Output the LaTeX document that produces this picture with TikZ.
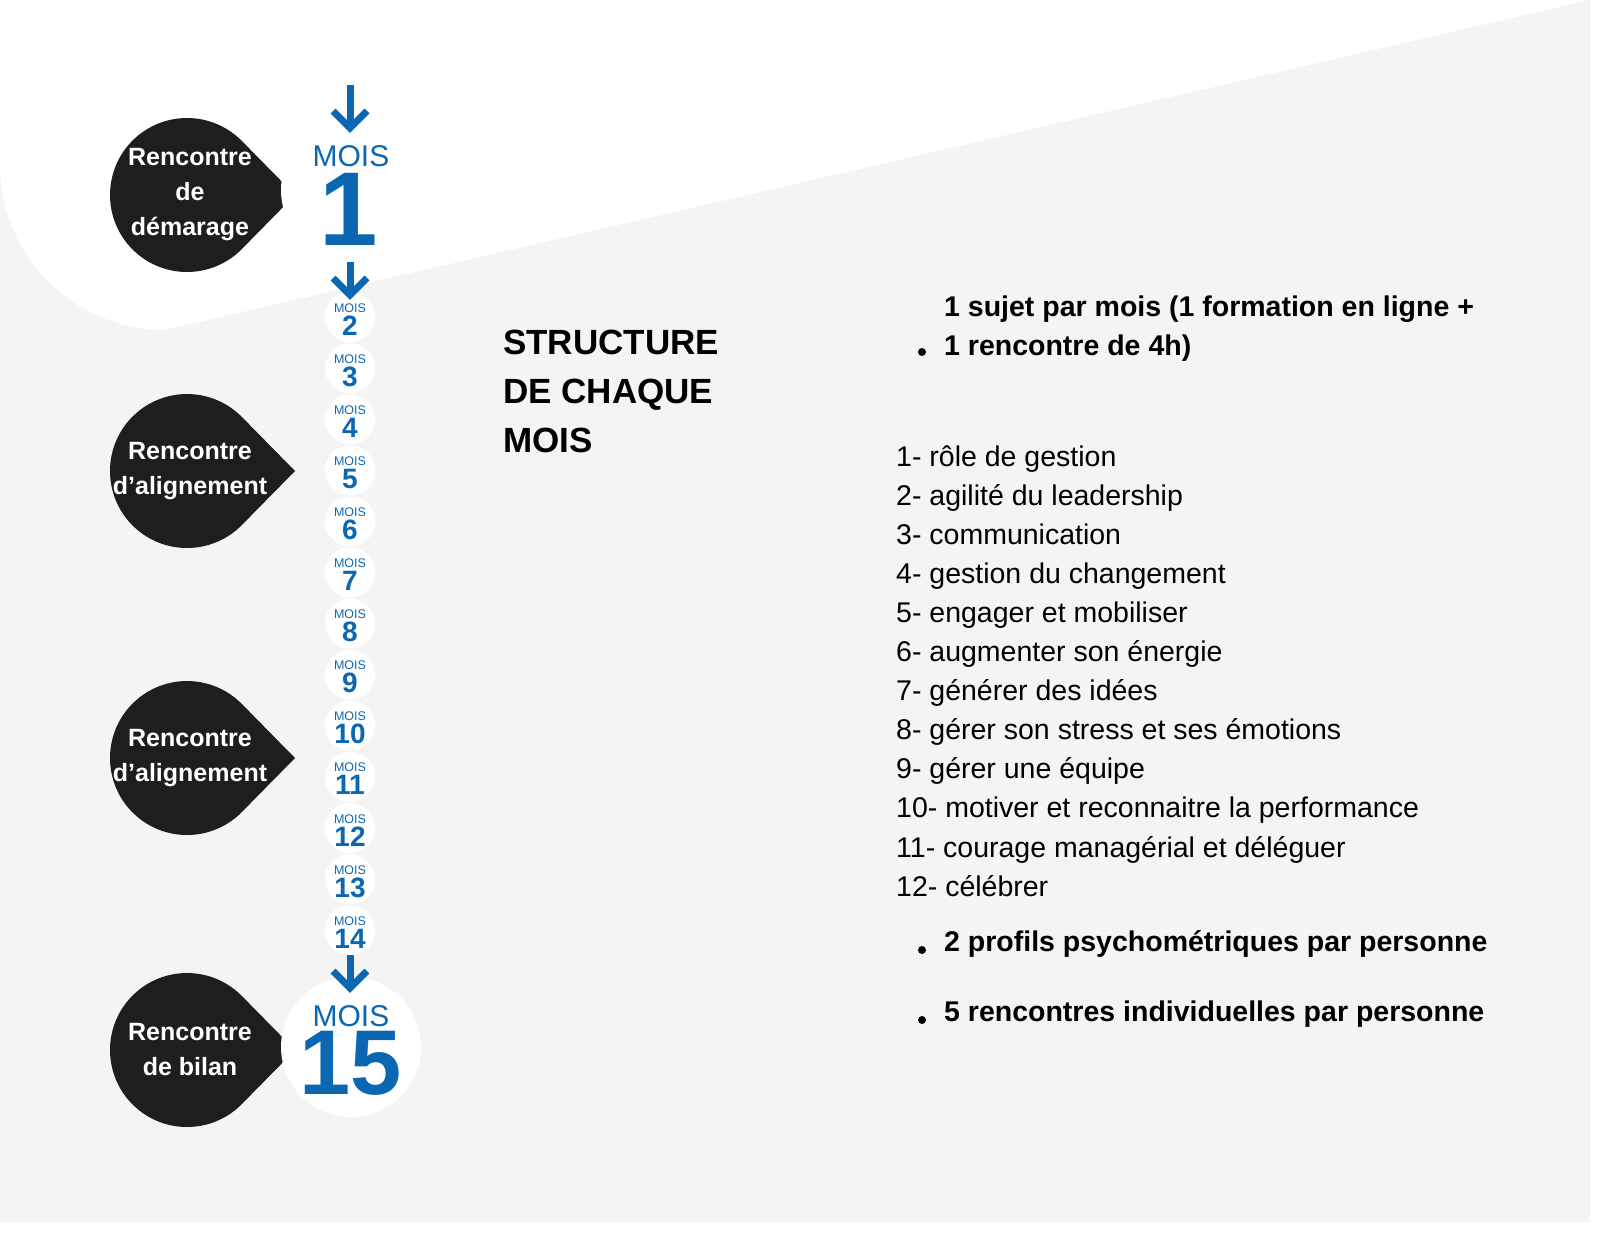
\documentclass[tikz,border=0pt]{standalone}
\usepackage{fontspec}
\setmainfont{Liberation Sans}
\usetikzlibrary{calc}
\definecolor{bg}{HTML}{F4F4F4}
\definecolor{mblue}{HTML}{0B67B2}
\definecolor{dropc}{HTML}{1E1E1C}
\begin{document}
\begin{tikzpicture}[x=1pt,y=-1pt,
  fs/.style={font=\fontsize{#1}{36}\selectfont},
  bigc/.style={circle,fill=white,minimum size=140pt,inner sep=0pt},
  smallc/.style={circle,fill=white,minimum size=50pt,inner sep=0pt},
  barrow/.style={draw=mblue,line width=7pt},
  droptxt/.style={text=white,font=\bfseries\fontsize{25}{35}\selectfont,align=center},
  item/.style={anchor=base west,font=\fontsize{28.5}{34}\selectfont,inner sep=0pt},
  bitem/.style={anchor=base west,font=\bfseries\fontsize{28.5}{39}\selectfont,inner sep=0pt,align=left}]
\useasboundingbox (0,0) rectangle (1600,1247);
\fill[white] (0,0) rectangle (1600,1247);
\fill[bg] (0,1222) -- (0,165) arc[start angle=180,end angle=90,radius=165] -- (1590,0) -- (1590,1222) -- cycle;

% drops
\foreach \n/\y in {d1/195,d2/471,d3/758,d4/1050}{
  \fill[dropc] (295,\y) -- ($(187,\y)+(44.5:77)$) arc[start angle=44.5,end angle=315.5,radius=77] -- cycle;
  \coordinate (\n) at (190,\y);
}
\node[droptxt] at (d1) {Rencontre\\de\\démarage};
\node[droptxt] at (d2) {Rencontre\\d'alignement};
\node[droptxt] at (d3) {Rencontre\\d'alignement};
\node[droptxt] at (d4) {Rencontre\\de bilan};

% big circles
\node[bigc] (m1) at (351,190) {};
\node[fs=30,text=mblue,anchor=base] at (351,166) {MOIS};
\node[text=mblue,font=\bfseries\fontsize{105}{105}\selectfont,anchor=base] at (349,245) {1};
\node[bigc] (m15) at (351,1047) {};
\node[fs=30,text=mblue,anchor=base] at (351,1026) {MOIS};
\node[text=mblue,font=\bfseries\fontsize{92}{92}\selectfont,anchor=base] at (351,1094) {15};

% small circles
\foreach \i [evaluate=\i as \yy using 317+(\i-2)*51.1] in {2,...,14}{
  \node[smallc] (m\i) at (350,\yy) {};
  \node[fs=12.5,text=mblue,anchor=base] at (350,\yy-5) {MOIS};
  \node[text=mblue,font=\bfseries\fontsize{28}{28}\selectfont,anchor=base] at (350,\yy+18) {\i};
}

% arrows
\coordinate (a0) at (350,85);
\coordinate (a1) at (350,130);
\coordinate (b0) at (350,262);
\coordinate (b1) at (350,297);
\coordinate (c0) at (350,955);
\coordinate (c1) at (350,990);
\foreach \s/\e in {a0/a1,b0/b1,c0/c1}{
  \draw[barrow] (\s) -- ($(\e)+(0,-3)$);
  \draw[barrow,line join=miter] ($(\e)+(-17,-19)$) -- ($(\e)+(0,-2)$) -- ($(\e)+(17,-19)$);
}

% title
\node[anchor=north west,font=\bfseries\fontsize{35}{49}\selectfont,align=left,inner sep=0pt] (title) at (503,330) {STRUCTURE\\DE CHAQUE\\MOIS};

% right text
\fill (922,352) circle[radius=4];
\node[bitem] (b1t) at (944,355) {1 sujet par mois (1 formation en ligne +\\1 rencontre de 4h)};
\foreach \t [count=\k from 0] in {1- rôle de gestion,2- agilité du leadership,3- communication,4- gestion du changement,5- engager et mobiliser,6- augmenter son énergie,7- générer des idées,8- gérer son stress et ses émotions,9- gérer une équipe,10- motiver et reconnaitre la performance,11- courage managérial et déléguer,12- célébrer}{
  \node[item] at (896,466+\k*39.1) {\t};
}
\fill (922,950) circle[radius=4];
\node[bitem] at (944,951) {2 profils psychométriques par personne};
\fill (922,1020) circle[radius=4];
\node[bitem] at (944,1021) {5 rencontres individuelles par personne};
\end{tikzpicture}
\end{document}
